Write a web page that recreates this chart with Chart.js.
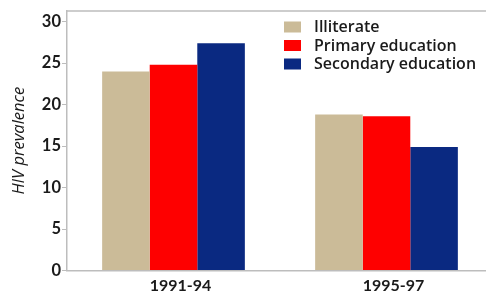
<!DOCTYPE html>
<html><head><meta charset="utf-8">
<script src="https://cdn.jsdelivr.net/npm/chart.js@4/dist/chart.umd.min.js"></script>
<style>html,body{margin:0;padding:0;background:#fff;overflow:hidden;width:486px;height:295px}
#wrap{width:493px;height:295px;position:relative}</style>
</head><body><div id="wrap"><canvas id="c"></canvas></div>
<script>
const categories = ['1991-94', '1995-97'];
const seriesNames = ['Illiterate', 'Primary education', 'Secondary education'];
const illiterate = [24.0, 18.8];
const primary = [24.8, 18.6];
const secondary = [27.4, 14.9];
const yTicks = [0, 5, 10, 15, 20, 25, 30];
const colors = ['#cbbb98', '#fe0000', '#0a2981'];
const FONT = 'Lato, "Open Sans", sans-serif';
const TFONT = '"Open Sans", Lato, sans-serif';

const legendInside = {
  id: 'legendInside',
  afterDraw(chart) {
    const ctx = chart.ctx;
    ctx.save();
    ctx.font = '600 16px ' + TFONT;
    ctx.textBaseline = 'middle';
    chart.data.datasets.forEach((ds, i) => {
      const y = 27 + i * 18.5;
      ctx.fillStyle = ds.backgroundColor;
      ctx.fillRect(284, y - 5.5, 17, 11);
      ctx.fillStyle = '#1a1a1a';
      ctx.fillText(ds.label, 314, y + 0.5);
    });
    const a = chart.chartArea;
    ctx.strokeStyle = '#bdbdbd';
    ctx.lineWidth = 1.5;
    ctx.beginPath();
    ctx.moveTo(a.left, a.top);
    ctx.lineTo(chart.width, a.top);
    ctx.stroke();
    ctx.restore();
  }
};

new Chart(document.getElementById('c'), {
  type: 'bar',
  data: {
    labels: categories,
    datasets: [
      { label: seriesNames[0], data: illiterate, backgroundColor: colors[0] },
      { label: seriesNames[1], data: primary, backgroundColor: colors[1] },
      { label: seriesNames[2], data: secondary, backgroundColor: colors[2] }
    ]
  },
  options: {
    responsive: true,
    maintainAspectRatio: false,
    animation: false,
    layout: { padding: { top: 7.5, right: 0, left: 0, bottom: 0 } },
    plugins: { legend: { display: false }, tooltip: { enabled: false } },
    datasets: { bar: { categoryPercentage: 0.67, barPercentage: 1.0, borderWidth: 0 } },
    scales: {
      x: {
        grid: { display: false, drawTicks: false },
        border: { color: '#bdbdbd', width: 1.5 },
        ticks: { color: '#1a1a1a', font: { family: FONT, size: 16, weight: 'bold' }, padding: 6, labelOffset: 7 },
        afterFit(s) { s.height = 24.5; }
      },
      y: {
        min: 0, max: 31.3,
        grid: { drawOnChartArea: false, drawTicks: true, tickLength: 5, color: '#bdbdbd', lineWidth: 1 },
        border: { color: '#bdbdbd', width: 1.5 },
        afterBuildTicks(s) { s.ticks = yTicks.map(v => ({ value: v })); },
        ticks: { color: '#1a1a1a', font: { family: FONT, size: 16.5, weight: 'bold' }, padding: 1 },
        title: { display: true, text: 'HIV prevalence', color: '#1a1a1a', font: { family: TFONT, size: 16.5, style: 'italic' }, padding: { top: 9, bottom: 0 } },
        afterFit(s) { s.width = 67; }
      }
    }
  },
  plugins: [legendInside]
});
</script></body></html>
